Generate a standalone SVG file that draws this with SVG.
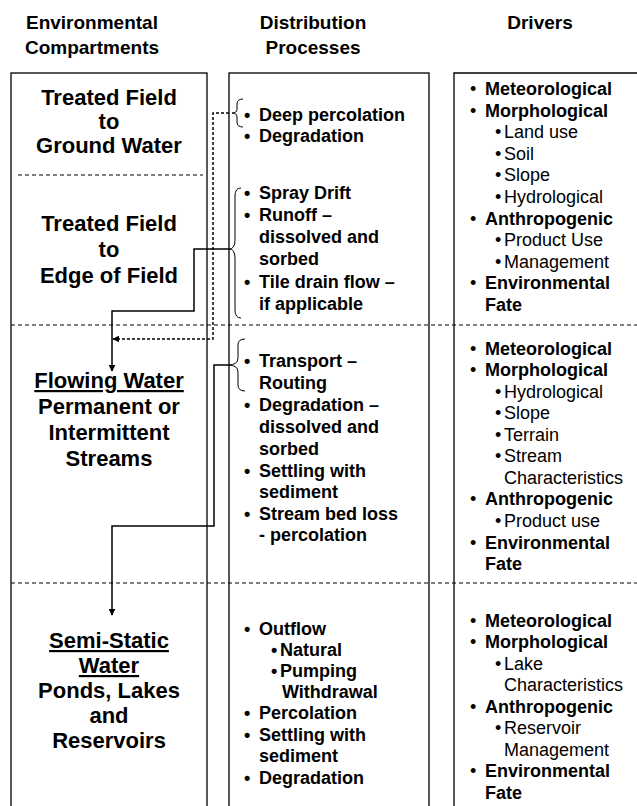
<svg xmlns="http://www.w3.org/2000/svg" width="637" height="806" viewBox="0 0 637 806">
<style>
text{font-family:"Liberation Sans",Arial,sans-serif;fill:#000}
.h{font-size:19px;font-weight:bold;text-anchor:middle}
.c{font-size:22px;font-weight:bold;text-anchor:middle}
.u{text-decoration:underline}
.p{font-size:18px;font-weight:bold}
.r{font-size:18px}
.box{fill:none;stroke:#000;stroke-width:1.3}
.div{fill:none;stroke:#000;stroke-width:1.2;stroke-dasharray:4 3}
.br{fill:none;stroke:#000;stroke-width:1}
.con{fill:none;stroke:#000;stroke-width:1.5}
.dash{stroke-dasharray:3 2}
</style>
<defs>
<marker id="ah" viewBox="0 0 10 10" refX="9" refY="5" markerWidth="7" markerHeight="7" markerUnits="userSpaceOnUse" orient="auto">
<path d="M0,0 L10,5 L0,10 z" fill="#000"/>
</marker>
</defs>
<rect width="637" height="806" fill="#fff"/>
<g id="headers">
<text class="h" x="92" y="29">Environmental</text>
<text class="h" x="92" y="54">Compartments</text>
<text class="h" x="313" y="29">Distribution</text>
<text class="h" x="313" y="54">Processes</text>
<text class="h" x="540" y="29">Drivers</text>
</g>
<g id="frames">
<rect class="box" x="11" y="73" width="196" height="760"/>
<rect class="box" x="229" y="73" width="200" height="760"/>
<path class="box" d="M454,820 V73 H640"/>
<path class="div" d="M18,175 H203"/>
<path class="div" d="M11,325 H637"/>
<path class="div" d="M11,583 H637"/>
</g>
<g id="gw">
<text class="c" x="109" y="105">Treated Field</text>
<text class="c" x="109" y="129">to</text>
<text class="c" x="109" y="153">Ground Water</text>
</g>
<g id="ef">
<text class="c" x="109" y="231">Treated Field</text>
<text class="c" x="109" y="257">to</text>
<text class="c" x="109" y="283">Edge of Field</text>
</g>
<g id="fw">
<text class="c u" x="109" y="388">Flowing Water</text>
<text class="c" x="109" y="414">Permanent or</text>
<text class="c" x="109" y="440">Intermittent</text>
<text class="c" x="109" y="466">Streams</text>
</g>
<g id="ss">
<text class="c u" x="109" y="648">Semi-Static</text>
<text class="c u" x="109" y="673">Water</text>
<text class="c" x="109" y="698">Ponds, Lakes</text>
<text class="c" x="109" y="723">and</text>
<text class="c" x="109" y="748">Reservoirs</text>
</g>
<g id="proc-gw">
<path class="br" d="M243,99 Q237,99 237,104 V109 Q237,113 232,113 Q237,113 237,117 V122 Q237,127 243,127"/>
<text class="p" x="244" y="121">•</text><text class="p" x="259" y="121">Deep percolation</text>
<text class="p" x="244" y="142">•</text><text class="p" x="259" y="142">Degradation</text>
</g>
<g id="proc-ef">
<path class="br" d="M241,188 Q235,188 235,196 V240 Q235,249 229,249 Q235,249 235,258 V310 Q235,318 241,318"/>
<text class="p" x="244" y="199">•</text><text class="p" x="259" y="199">Spray Drift</text>
<text class="p" x="244" y="221">•</text><text class="p" x="259" y="221">Runoff –</text>
<text class="p" x="259" y="243">dissolved and</text>
<text class="p" x="259" y="265">sorbed</text>
<text class="p" x="244" y="288">•</text><text class="p" x="259" y="288">Tile drain flow –</text>
<text class="p" x="259" y="310">if applicable</text>
</g>
<g id="proc-fw">
<path class="br" d="M245,339 Q238,339 238,345 V358 Q238,365 228,365 Q238,365 238,372 V385 Q238,391 245,391"/>
<text class="p" x="244" y="367">•</text><text class="p" x="259" y="367">Transport –</text>
<text class="p" x="259" y="389">Routing</text>
<text class="p" x="244" y="411">•</text><text class="p" x="259" y="411">Degradation –</text>
<text class="p" x="259" y="433">dissolved and</text>
<text class="p" x="259" y="455">sorbed</text>
<text class="p" x="244" y="477">•</text><text class="p" x="259" y="477">Settling with</text>
<text class="p" x="259" y="498">sediment</text>
<text class="p" x="244" y="520">•</text><text class="p" x="259" y="520">Stream bed loss</text>
<text class="p" x="259" y="541">- percolation</text>
</g>
<g id="proc-ss">
<text class="p" x="244" y="635">•</text><text class="p" x="259" y="635">Outflow</text>
<text class="p" x="271" y="656">•</text><text class="p" x="280" y="656">Natural</text>
<text class="p" x="271" y="677">•</text><text class="p" x="280" y="677">Pumping</text>
<text class="p" x="282" y="698">Withdrawal</text>
<text class="p" x="244" y="719">•</text><text class="p" x="259" y="719">Percolation</text>
<text class="p" x="244" y="741">•</text><text class="p" x="259" y="741">Settling with</text>
<text class="p" x="259" y="762">sediment</text>
<text class="p" x="244" y="784">•</text><text class="p" x="259" y="784">Degradation</text>
</g>
<g id="drv-ef">
<text class="r" x="470" y="95">•</text><text class="p" x="485" y="95">Meteorological</text>
<text class="r" x="470" y="117">•</text><text class="p" x="485" y="117">Morphological</text>
<text class="r" x="495" y="138">•</text><text class="r" x="504" y="138">Land use</text>
<text class="r" x="495" y="160">•</text><text class="r" x="504" y="160">Soil</text>
<text class="r" x="495" y="181">•</text><text class="r" x="504" y="181">Slope</text>
<text class="r" x="495" y="203">•</text><text class="r" x="504" y="203">Hydrological</text>
<text class="r" x="470" y="225">•</text><text class="p" x="485" y="225">Anthropogenic</text>
<text class="r" x="495" y="246">•</text><text class="r" x="504" y="246">Product Use</text>
<text class="r" x="495" y="268">•</text><text class="r" x="504" y="268">Management</text>
<text class="r" x="470" y="289">•</text><text class="p" x="485" y="289">Environmental</text>
<text class="p" x="485" y="311">Fate</text>
</g>
<g id="drv-fw">
<text class="r" x="470" y="355">•</text><text class="p" x="485" y="355">Meteorological</text>
<text class="r" x="470" y="376">•</text><text class="p" x="485" y="376">Morphological</text>
<text class="r" x="495" y="398">•</text><text class="r" x="504" y="398">Hydrological</text>
<text class="r" x="495" y="419">•</text><text class="r" x="504" y="419">Slope</text>
<text class="r" x="495" y="441">•</text><text class="r" x="504" y="441">Terrain</text>
<text class="r" x="495" y="462">•</text><text class="r" x="504" y="462">Stream</text>
<text class="r" x="504" y="484">Characteristics</text>
<text class="r" x="470" y="505">•</text><text class="p" x="485" y="505">Anthropogenic</text>
<text class="r" x="495" y="527">•</text><text class="r" x="504" y="527">Product use</text>
<text class="r" x="470" y="549">•</text><text class="p" x="485" y="549">Environmental</text>
<text class="p" x="485" y="570">Fate</text>
</g>
<g id="drv-ss">
<text class="r" x="470" y="627">•</text><text class="p" x="485" y="627">Meteorological</text>
<text class="r" x="470" y="648">•</text><text class="p" x="485" y="648">Morphological</text>
<text class="r" x="495" y="670">•</text><text class="r" x="504" y="670">Lake</text>
<text class="r" x="504" y="691">Characteristics</text>
<text class="r" x="470" y="713">•</text><text class="p" x="485" y="713">Anthropogenic</text>
<text class="r" x="495" y="734">•</text><text class="r" x="504" y="734">Reservoir</text>
<text class="r" x="504" y="756">Management</text>
<text class="r" x="470" y="777">•</text><text class="p" x="485" y="777">Environmental</text>
<text class="p" x="485" y="799">Fate</text>
</g>
<g id="connectors">
<path class="con" d="M229,249 H194 V311 H112 V371" marker-end="url(#ah)"/>
<path class="con dash" d="M229,113 H213 V339 H113" marker-end="url(#ah)"/>
<path class="con" d="M228,365 H214 V526 H112 V615" marker-end="url(#ah)"/>
</g>
</svg>
